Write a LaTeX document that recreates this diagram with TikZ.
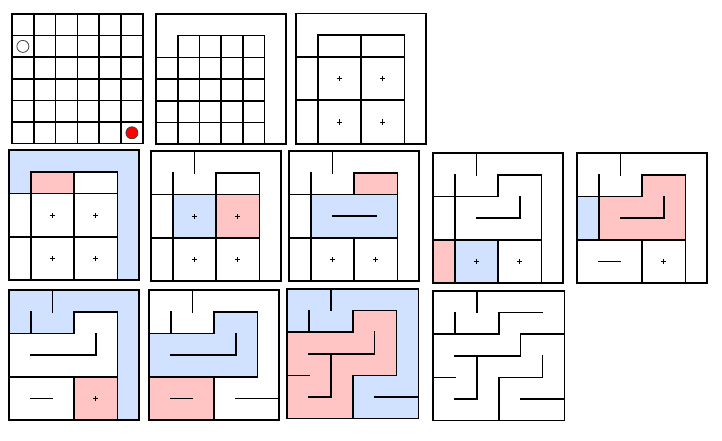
\documentclass[tikz,border=0pt]{standalone}
\definecolor{mzblue}{RGB}{208,226,255}
\definecolor{mzpink}{RGB}{255,196,196}
\tikzset{
  wall/.style={line width=1.6pt, line cap=rect},
  bluefill/.style={fill=mzblue, draw=none},
  pinkfill/.style={fill=mzpink, draw=none},
  panel/.style={x=21.7pt, y=-21.7pt},
  plusmk/.style={line width=0.8pt}
}
\newcommand\plusmark[1]{\draw[plusmk] (#1) +(-2.6pt,0) -- +(2.6pt,0) (#1) +(0,-2.6pt) -- +(0,2.6pt);}
\begin{document}
\begin{tikzpicture}[x=1pt,y=-1pt]
\useasboundingbox (0,0) rectangle (722,441);
% Panel 1
\begin{scope}[xshift=12pt,yshift=-14pt,x=21.8pt,y=-21.6pt]
  \foreach \i in {0,...,6} \draw[wall] (\i,0) -- (\i,6) (0,\i) -- (6,\i);
  \draw[fill=white, draw=black!75, line width=0.8pt] (0.5,1.5) circle (6pt);
  \draw[fill=red, draw=black!75, line width=0.8pt] (5.5,5.5) circle (6pt);
\end{scope}
% Panel 2
\begin{scope}[xshift=156pt,yshift=-14pt,panel]
  \draw[wall] (0,0) rectangle (6,6);
  \draw[wall] (1,1) -- (5,1);
  \foreach \r in {2,...,5} \draw[wall] (0,\r) -- (5,\r);
  \foreach \c in {1,...,5} \draw[wall] (\c,1) -- (\c,6);
\end{scope}
% Panel 3
\begin{scope}[xshift=296pt,yshift=-13.5pt,panel]
  \draw[wall] (0,0) rectangle (6,6);
  \draw[wall] (1,1) -- (5,1) (0,2) -- (5,2) (0,4) -- (5,4);
  \draw[wall] (1,1) -- (1,6) (3,1) -- (3,6) (5,1) -- (5,6);
  \plusmark{2,3}\plusmark{4,3}\plusmark{2,5}\plusmark{4,5}
\end{scope}
% Panel 4
\begin{scope}[xshift=9pt,yshift=-150pt,panel]
  \fill[bluefill] (0,0) -- (6,0) -- (6,6) -- (5,6) -- (5,1) -- (1,1) -- (1,2) -- (0,2) -- cycle;
  \fill[pinkfill] (1,1) rectangle (3,2);
  \draw[wall] (0,0) rectangle (6,6);
  \draw[wall] (1,1) -- (5,1) (0,2) -- (5,2) (0,4) -- (5,4);
  \draw[wall] (1,1) -- (1,6) (3,1) -- (3,6) (5,1) -- (5,6);
  \plusmark{2,3}\plusmark{4,3}\plusmark{2,5}\plusmark{4,5}
\end{scope}
% Panel 5
\begin{scope}[xshift=151pt,yshift=-151pt,panel]
  \fill[bluefill] (1,2) rectangle (3,4);
  \fill[pinkfill] (3,2) rectangle (5,4);
  \draw[wall] (0,0) rectangle (6,6);
  \draw[wall] (2,0) -- (2,1) (1,1) -- (1,6) (3,6) -- (3,1) -- (5,1) -- (5,6);
  \draw[wall] (0,2) -- (5,2) (0,4) -- (5,4);
  \plusmark{2,3}\plusmark{4,3}\plusmark{2,5}\plusmark{4,5}
\end{scope}
% Panel 6
\begin{scope}[xshift=289pt,yshift=-151pt,panel]
  \fill[bluefill] (1,2) rectangle (5,4);
  \fill[pinkfill] (3,1) rectangle (5,2);
  \draw[wall] (0,0) rectangle (6,6);
  \draw[wall] (2,0) -- (2,1) (1,1) -- (1,6) (3,2) -- (3,1) -- (5,1) -- (5,6);
  \draw[wall] (0,2) -- (5,2) (0,4) -- (5,4) (2,3) -- (4,3) (3,4) -- (3,6);
  \plusmark{2,5}\plusmark{4,5}
\end{scope}
% Panel 7
\begin{scope}[xshift=433pt,yshift=-153pt,panel]
  \fill[pinkfill] (0,4) rectangle (1,6);
  \fill[bluefill] (1,4) rectangle (3,6);
  \draw[wall] (0,0) rectangle (6,6);
  \draw[wall] (2,0) -- (2,1) (1,1) -- (1,6) (0,2) -- (3,2) -- (3,1) -- (5,1) -- (5,6);
  \draw[wall] (2,3) -- (4,3) -- (4,2) (0,4) -- (5,4) (3,4) -- (3,6);
  \plusmark{2,5}\plusmark{4,5}
\end{scope}
% Panel 8
\begin{scope}[xshift=577pt,yshift=-153pt,panel]
  \fill[bluefill] (0,2) rectangle (1,4);
  \fill[pinkfill] (1,2) -- (3,2) -- (3,1) -- (5,1) -- (5,4) -- (1,4) -- cycle;
  \draw[wall] (0,0) rectangle (6,6);
  \draw[wall] (2,0) -- (2,1) (1,1) -- (1,4) (0,2) -- (3,2) -- (3,1) -- (5,1) -- (5,6);
  \draw[wall] (2,3) -- (4,3) -- (4,2) (0,4) -- (5,4) (3,4) -- (3,6) (1,5) -- (2,5);
  \plusmark{4,5}
\end{scope}
% Panel 9
\begin{scope}[xshift=9pt,yshift=-290pt,panel]
  \fill[bluefill] (0,0) -- (6,0) -- (6,6) -- (5,6) -- (5,1) -- (3,1) -- (3,2) -- (0,2) -- cycle;
  \fill[pinkfill] (3,4) rectangle (5,6);
  \draw[wall] (0,0) rectangle (6,6);
  \draw[wall] (2,0) -- (2,1) (1,1) -- (1,2) (0,2) -- (3,2) -- (3,1) -- (5,1) -- (5,6);
  \draw[wall] (1,3) -- (4,3) -- (4,2) (0,4) -- (5,4) (3,4) -- (3,6) (1,5) -- (2,5);
  \plusmark{4,5}
\end{scope}
% Panel 10
\begin{scope}[xshift=149pt,yshift=-290pt,panel]
  \fill[bluefill] (0,2) -- (3,2) -- (3,1) -- (5,1) -- (5,4) -- (0,4) -- cycle;
  \fill[pinkfill] (0,4) rectangle (3,6);
  \draw[wall] (0,0) rectangle (6,6);
  \draw[wall] (2,0) -- (2,1) (1,1) -- (1,2) (0,2) -- (3,2) -- (3,1) -- (5,1) -- (5,4);
  \draw[wall] (1,3) -- (4,3) -- (4,2) (0,4) -- (5,4) (3,4) -- (3,6) (1,5) -- (2,5) (4,5) -- (6,5);
\end{scope}
% Panel 11
\begin{scope}[xshift=287pt,yshift=-289pt,x=21.9pt,y=-21.6pt]
  \fill[bluefill] (0,0) -- (6,0) -- (6,6) -- (3,6) -- (3,4) -- (5,4) -- (5,1) -- (3,1) -- (3,2) -- (0,2) -- cycle;
  \fill[pinkfill] (0,2) -- (3,2) -- (3,1) -- (5,1) -- (5,4) -- (3,4) -- (3,6) -- (0,6) -- cycle;
  \draw[wall] (0,0) rectangle (6,6);
  \draw[wall] (2,0) -- (2,1) (1,1) -- (1,2) (0,2) -- (3,2) -- (3,1) -- (5,1) -- (5,4) -- (3,4) -- (3,6);
  \draw[wall] (1,3) -- (4,3) -- (4,2) (2,3) -- (2,5) (0,4) -- (1,4) (1,5) -- (2,5) (4,5) -- (6,5);
\end{scope}
% Panel 12
\begin{scope}[xshift=433pt,yshift=-291pt,x=21.9pt,y=-21.6pt]
  \draw[wall] (0,0) rectangle (6,6);
  \draw[wall] (2,0) -- (2,1) (1,1) -- (1,2) (0,2) -- (3,2) -- (3,1) -- (5,1) (4,2) -- (6,2);
  \draw[wall] (1,3) -- (4,3) -- (4,2) (2,3) -- (2,5) (5,3) -- (5,4) -- (3,4) -- (3,6);
  \draw[wall] (0,4) -- (1,4) (1,5) -- (2,5) (4,5) -- (6,5);
\end{scope}
\end{tikzpicture}
\end{document}
